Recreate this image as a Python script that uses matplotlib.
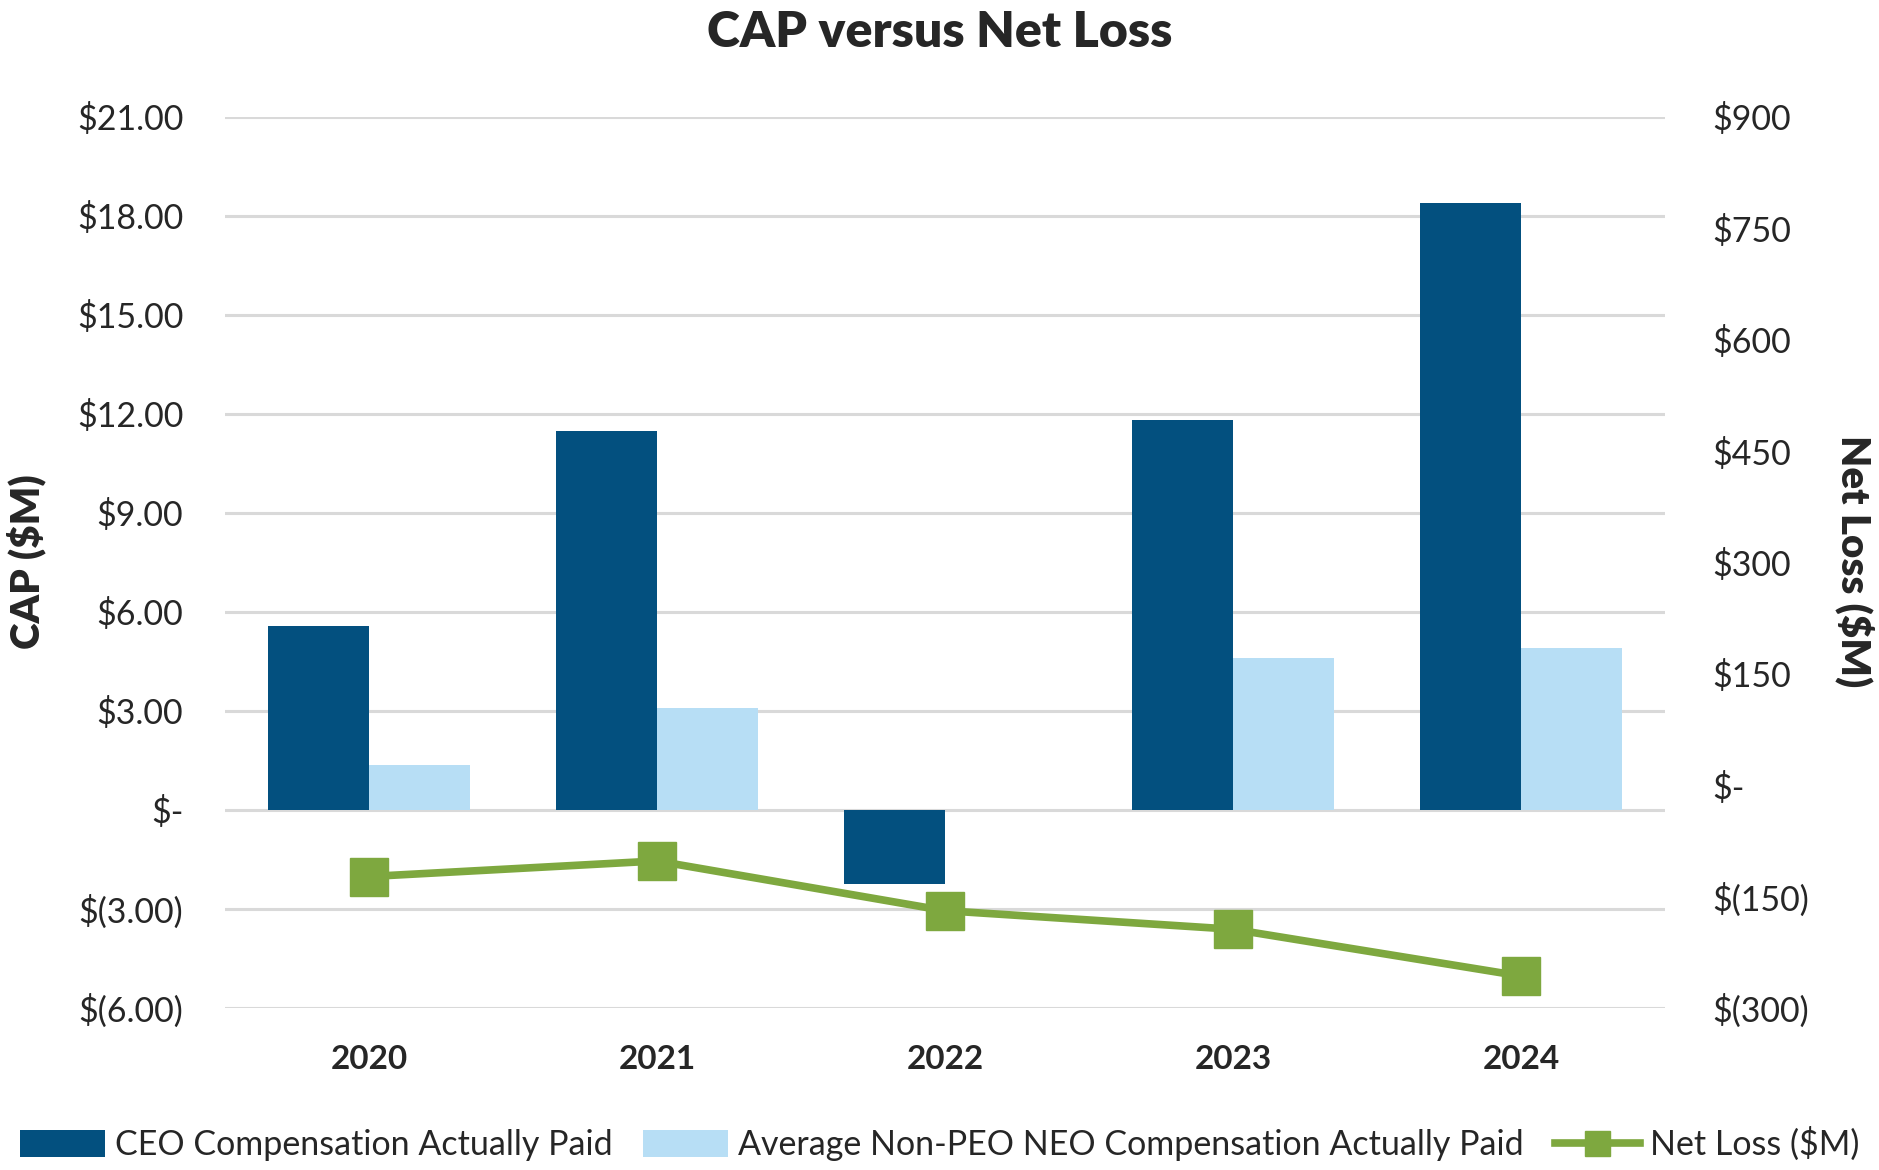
import matplotlib
matplotlib.use("Agg")
import matplotlib.pyplot as plt
from matplotlib.lines import Line2D
from matplotlib.patches import Patch
import numpy as np

plt.rcParams['font.family'] = ['Lato', 'DejaVu Sans']

# data
years = ['2020', '2021', '2022', '2023', '2024']
ceo_cap = [5.57, 11.49, -2.25, 11.82, 18.40]       # $M
neo_cap = [1.37, 3.10, 0.0, 4.60, 4.91]            # $M
net_loss = [-123, -102, -169, -194, -257]           # $M

left_ticks = [-6, -3, 0, 3, 6, 9, 12, 15, 18, 21]
left_labels = ['$(6.00)', '$(3.00)', '$-', '$3.00', '$6.00', '$9.00',
               '$12.00', '$15.00', '$18.00', '$21.00']
right_ticks = [-300, -150, 0, 150, 300, 450, 600, 750, 900]
right_labels = ['$(300)', '$(150)', '$-', '$150', '$300', '$450',
                '$600', '$750', '$900']

# colours
dark_blue = '#03507F'
light_blue = '#B7DEF5'
green = '#7EA83F'
grid_grey = '#D9D9D9'
text_col = '#262626'

fig = plt.figure(figsize=(18.79, 11.70), dpi=100)
ax = fig.add_axes([0.1197, 0.1385, 0.7664, 0.7615])
ax2 = ax.twinx()

x = np.arange(len(years))
w = 0.35
ax.bar(x - w / 2, ceo_cap, w, color=dark_blue, zorder=3)
ax.bar(x + w / 2, neo_cap, w, color=light_blue, zorder=3)

ax2.plot(x, net_loss, color=green, linewidth=5.5, marker='s',
         markersize=28, zorder=4)

# axes setup
ax.set_xlim(-0.5, 4.5)
ax.set_ylim(-6, 21)
ax2.set_ylim(-300, 900)

ax.set_yticks(left_ticks)
ax.set_yticklabels(left_labels)
ax2.set_yticks(right_ticks)
ax2.set_yticklabels(right_labels)
ax.set_xticks(x)
ax.set_xticklabels(years, fontweight='bold')

ax.yaxis.grid(True, color=grid_grey, linewidth=2.2, zorder=0)
ax.set_axisbelow(True)

for a in (ax, ax2):
    for s in a.spines.values():
        s.set_visible(False)
ax.tick_params(axis='y', length=0, pad=30, labelsize=24.5, labelcolor=text_col)
ax.tick_params(axis='x', length=0, pad=27, labelsize=24, labelcolor=text_col)
ax2.tick_params(axis='y', length=0, pad=34, labelsize=24.5, labelcolor=text_col)

# titles
fig.text(0.5, 0.972, 'CAP versus Net Loss', ha='center', va='center',
         fontsize=36, fontweight='heavy', color=text_col)
fig.text(0.014, 0.52, 'CAP ($M)', rotation=90, ha='center', va='center',
         fontsize=29, fontweight='heavy', color=text_col)
fig.text(0.987, 0.52, 'Net Loss ($M)', rotation=270, ha='center', va='center',
         fontsize=29, fontweight='heavy', color=text_col)

# legend
handles = [Patch(facecolor=dark_blue),
           Patch(facecolor=light_blue),
           Line2D([0], [0], color=green, linewidth=5.5, marker='s', markersize=18)]
labels = ['CEO Compensation Actually Paid',
          'Average Non-PEO NEO Compensation Actually Paid',
          'Net Loss ($M)']
fig.legend(handles, labels, loc='center', bbox_to_anchor=(0.5, 0.022), ncol=3,
           frameon=False, fontsize=24.5, handlelength=2.5, handleheight=0.8,
           handletextpad=0.3, columnspacing=0.9, labelcolor=text_col)

fig.savefig('out.png', dpi=100)
